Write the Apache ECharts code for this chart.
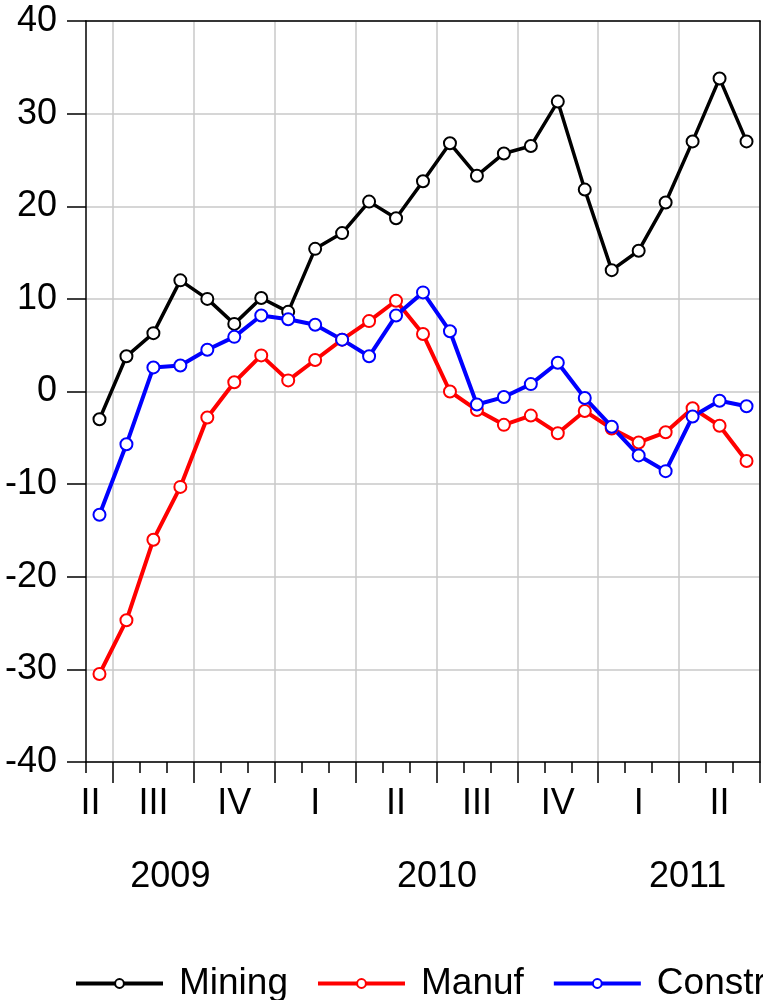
<!DOCTYPE html>
<html>
<head>
<meta charset="utf-8">
<script src="https://cdn.jsdelivr.net/npm/echarts@6/dist/echarts.min.js"></script>
<style>
  html, body { margin: 0; padding: 0; background: #fff; }
  #chart { width: 763px; height: 1000px; }
</style>
</head>
<body>
<div id="chart"></div>
<script>
const months = [
  '2009-06', '2009-07', '2009-08', '2009-09', '2009-10', '2009-11', '2009-12',
  '2010-01', '2010-02', '2010-03', '2010-04', '2010-05', '2010-06',
  '2010-07', '2010-08', '2010-09', '2010-10', '2010-11', '2010-12',
  '2011-01', '2011-02', '2011-03', '2011-04', '2011-05', '2011-06'
];
const mining = [-3.0, 3.8, 6.3, 12.0, 10.0, 7.3, 10.1, 8.6, 15.4, 17.1, 20.5, 18.7, 22.7,
  26.8, 23.3, 25.7, 26.5, 31.3, 21.8, 13.1, 15.2, 20.4, 27.0, 33.8, 27.0];
const manuf = [-30.5, -24.7, -16.0, -10.3, -2.8, 1.0, 3.9, 1.2, 3.4, 5.6, 7.6, 9.8, 6.2,
  0.0, -2.0, -3.6, -2.6, -4.5, -2.1, -4.0, -5.5, -4.4, -1.8, -3.7, -7.5];
const constr = [-13.3, -5.7, 2.6, 2.8, 4.5, 5.9, 8.2, 7.8, 7.2, 5.6, 3.8, 8.2, 10.7,
  6.5, -1.4, -0.6, 0.8, 3.1, -0.7, -3.8, -6.9, -8.6, -2.7, -1.0, -1.6];

// quarter labels sit under the middle month of each quarter
const quarterAt = [0, 2, 5, 8, 11, 14, 17, 20, 23];
const quarterNames = ['II', 'III', 'IV', 'I', 'II', 'III', 'IV', 'I', 'II'];
// quarter boundaries (first month of a quarter)
const quarterStarts = [1, 4, 7, 10, 13, 16, 19, 22];
const yearAt = [3, 13, 22];
const years = ['2009', '2010', '2011'];

const font = 'Liberation Sans, Arial, sans-serif';
const fs = 36;
const axisColor = '#000';
const gridColor = '#c8c8c8';

const chart = echarts.init(document.getElementById('chart'));

function lineSeries(name, data, color, width) {
  return {
    name: name,
    type: 'line',
    data: data,
    xAxisIndex: 0,
    yAxisIndex: 0,
    symbol: 'emptyCircle',
    symbolSize: 12,
    lineStyle: { color: color, width: width },
    itemStyle: { color: color, borderColor: color, borderWidth: 2 },
    emphasis: { disabled: true },
    animation: false
  };
}

const option = {
  backgroundColor: '#fff',
  grid: { left: 86, right: 3, top: 21, bottom: 238 },
  legend: {
    left: 69, top: 960, width: 1200,
    itemWidth: 87, itemHeight: 11, itemGap: 28,
    lineStyle: { width: 4 },
    textStyle: { fontFamily: font, fontSize: 37, color: '#000', padding: [0, 0, 0, 11] },
    data: ['Mining', 'Manuf', 'Constr']
  },
  xAxis: [
    {
      type: 'category',
      data: months,
      boundaryGap: true,
      position: 'bottom',
      axisLine: { onZero: false, lineStyle: { color: axisColor, width: 1.5 } },
      axisTick: { show: true, interval: 0, length: 11, lineStyle: { color: axisColor, width: 1.5 } },
      axisLabel: {
        interval: (i) => quarterAt.indexOf(i) >= 0,
        margin: 24,
        color: '#000',
        fontFamily: font,
        fontSize: fs,
        formatter: (v, i) => {
          const k = quarterAt.indexOf(i);
          if (k < 0) return '';
          return i === 0 ? '{s|' + quarterNames[k] + '}' : quarterNames[k];
        },
        rich: { s: { fontFamily: font, fontSize: fs, color: '#000', padding: [0, 18, 0, 0] } }
      },
      splitLine: { show: false }
    },
    {
      type: 'category',
      data: months,
      boundaryGap: true,
      position: 'bottom',
      axisLine: { show: false, onZero: false },
      axisTick: {
        show: true,
        interval: (i) => quarterStarts.indexOf(i) >= 0,
        length: 21,
        lineStyle: { color: axisColor, width: 1.5 }
      },
      axisLabel: {
        interval: (i) => yearAt.indexOf(i) >= 0,
        margin: 97,
        color: '#000',
        fontFamily: font,
        fontSize: fs,
        formatter: (v, i) => {
          const k = yearAt.indexOf(i);
          if (k < 0) return '';
          return '{y' + k + '|' + years[k] + '}';
        },
        rich: {
          y0: { fontFamily: font, fontSize: fs, color: '#000', padding: [0, 20, 0, 0] },
          y1: { fontFamily: font, fontSize: fs, color: '#000', padding: [0, 26, 0, 0] },
          y2: { fontFamily: font, fontSize: fs, color: '#000', padding: [0, 10, 0, 0] }
        }
      },
      splitLine: {
        show: true,
        interval: (i) => quarterStarts.indexOf(i) >= 0,
        lineStyle: { color: gridColor, width: 1.5 }
      }
    },
    {
      // top frame line
      type: 'category',
      data: months,
      position: 'top',
      axisLine: { show: true, onZero: false, lineStyle: { color: axisColor, width: 1.5 } },
      axisTick: { show: false },
      axisLabel: { show: false },
      splitLine: { show: false }
    }
  ],
  yAxis: [
    {
      type: 'value',
      min: -40, max: 40, interval: 10,
      position: 'left',
      axisLine: { show: true, onZero: false, lineStyle: { color: axisColor, width: 1.5 } },
      axisTick: { show: true, length: 19, lineStyle: { color: axisColor, width: 1.5 } },
      axisLabel: {
        margin: 29, color: '#000', fontFamily: font, fontSize: fs,
        padding: [0, 0, 10, 0]
      },
      splitLine: { show: true, lineStyle: { color: gridColor, width: 1.5 } }
    },
    {
      // right frame line
      type: 'value',
      min: -40, max: 40, interval: 10,
      position: 'right',
      axisLine: { show: true, onZero: false, lineStyle: { color: axisColor, width: 1.5 } },
      axisTick: { show: false },
      axisLabel: { show: false },
      splitLine: { show: false }
    }
  ],
  series: [
    lineSeries('Mining', mining, '#000000', 3.5),
    lineSeries('Manuf', manuf, '#ff0000', 4),
    lineSeries('Constr', constr, '#0000ff', 4)
  ]
};

chart.setOption(option);
</script>
</body>
</html>
